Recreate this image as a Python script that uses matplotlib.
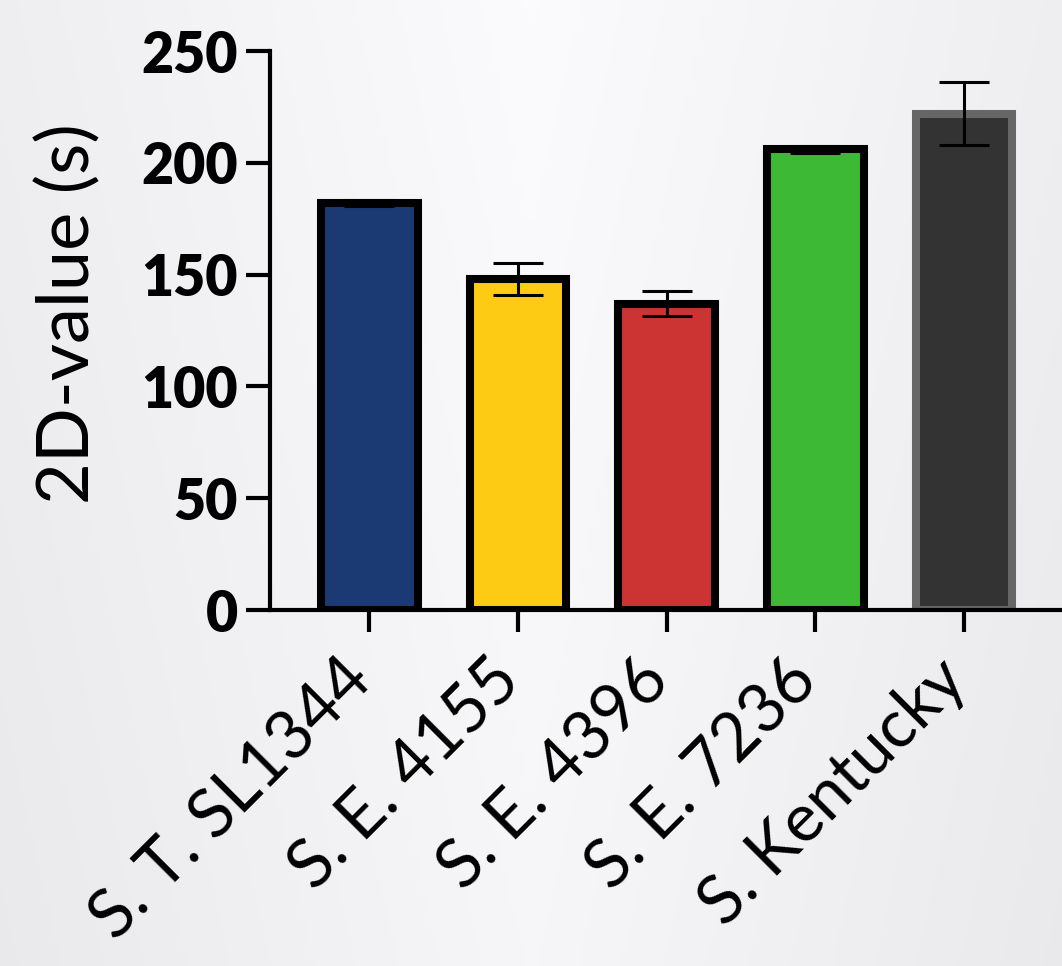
import numpy as np
import matplotlib
matplotlib.use('Agg')
import matplotlib.pyplot as plt
from matplotlib.transforms import ScaledTranslation

#### Data
strains = ['S. T. SL1344', 'S. E. 4155', 'S. E. 4396', 'S. E. 7236', 'S. Kentucky']
d_value = [182, 148, 137, 206, 222]
d_err = [1.2, 7, 5.5, 1.5, 14]
yticks = [0, 50, 100, 150, 200, 250]

fill_colors = ['#1b3a73', '#fecb14', '#cc3333', '#3db935', '#333333']
edge_colors = ['black', 'black', 'black', 'black', '#666666']

plt.rcParams['font.family'] = ['Lato', 'DejaVu Sans']

fig = plt.figure(figsize=(10.62, 9.66), dpi=100)
fig.patch.set_facecolor('#f4f4f6')

# soft backdrop, whiter in the middle
grad = np.linspace(0, 1, 256)
xx, yy = np.meshgrid(grad, grad)
bg = 1 - 0.05*np.clip(np.abs(xx - 0.5)*2, 0, 1) - 0.02*yy
bgax = fig.add_axes([0, 0, 1, 1], zorder=-5)
bgax.imshow(np.dstack([bg*0.985, bg*0.985, bg*0.995]), aspect='auto', extent=[0, 1, 0, 1])
bgax.axis('off')

ax = fig.add_axes([0.254, 0.3685, 0.746, 0.5787])
ax.patch.set_alpha(0)

x = np.arange(len(strains))
ax.bar(x, d_value, width=0.65, color=fill_colors, edgecolor=edge_colors,
       linewidth=5.8, zorder=2)
ax.errorbar(x, d_value, yerr=d_err, fmt='none', ecolor='black',
            elinewidth=2.2, capsize=18, capthick=2.2, zorder=3)

ax.set_xlim(-0.67, 4.66)
ax.set_ylim(0, 250)
ax.set_yticks(yticks)
ax.set_yticklabels([str(k) for k in yticks], fontsize=40, fontweight='heavy')
ax.set_xticks(x)
ax.set_xticklabels([])

# rotated strain names, upper end tucked under each tick
lab_trans = ax.get_xaxis_transform() + ScaledTranslation(-8/100, -60/100, fig.dpi_scale_trans)
for i, name in enumerate(strains):
	ax.text(x[i], 0, name, transform=lab_trans, fontsize=48, rotation=45,
	        ha='right', va='center', rotation_mode='anchor', clip_on=False)

for s in ['top', 'right']:
	ax.spines[s].set_visible(False)
for s in ['left', 'bottom']:
	ax.spines[s].set_linewidth(3)
ax.tick_params(axis='y', length=17, width=3, pad=6)
ax.tick_params(axis='x', length=16, width=3)

ax.set_ylabel('2D-value (s)', fontsize=52)
ax.yaxis.set_label_coords(-0.212, 0.531)

plt.savefig('out.png', dpi=100)
